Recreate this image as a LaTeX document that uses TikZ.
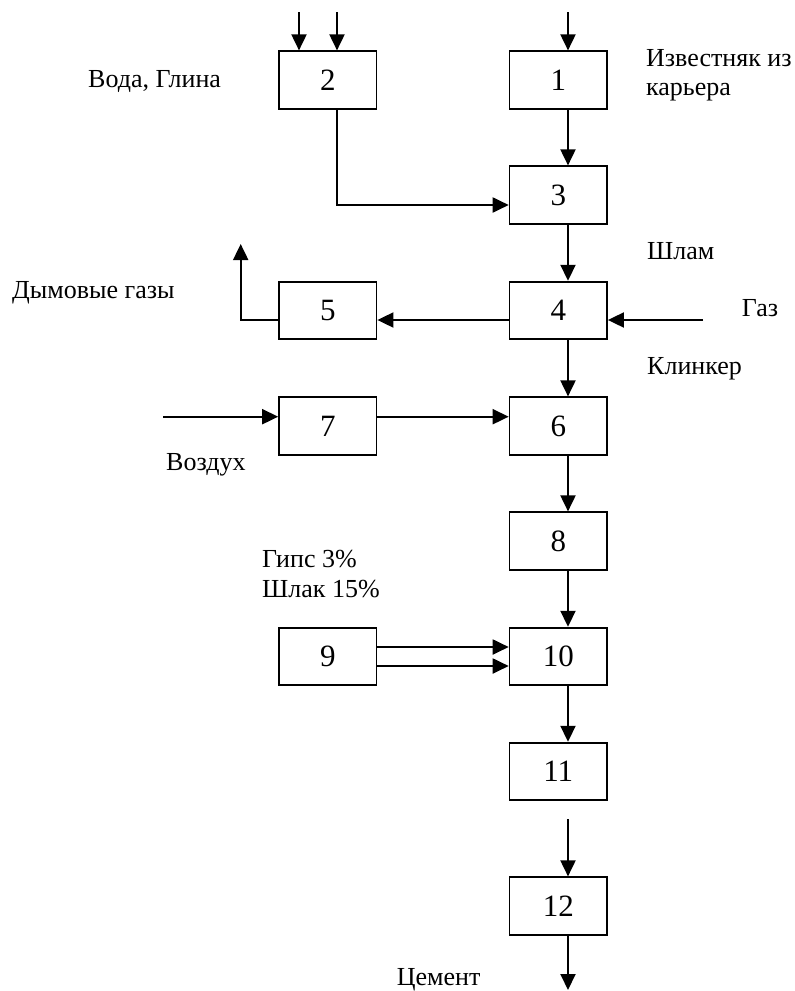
\documentclass[tikz,border=0pt]{standalone}
\usepackage{fontspec}
\setmainfont{Liberation Serif}
\usetikzlibrary{arrows.meta,calc}
\begin{document}
\begin{tikzpicture}[x=1pt,y=-1pt,
  box/.style={draw,line width=1.7pt,minimum width=97.5pt,minimum height=57.5pt,inner sep=0pt,font=\fontsize{31}{36}\selectfont},
  arr/.style={line width=1.9pt,-{Triangle[length=16pt,width=15pt]}},
  lbl/.style={anchor=base west,inner sep=0pt,font=\fontsize{26}{30}\selectfont}]
\useasboundingbox (0,0) rectangle (795,991);
% boxes
\node[box] (b2) at (327.8,80) {2};
\node[box] (b1) at (558.3,80) {1};
\node[box] (b3) at (558.3,195) {3};
\node[box] (b4) at (558.3,310.4) {4};
\node[box] (b5) at (327.8,310.4) {5};
\node[box] (b6) at (558.3,426) {6};
\node[box] (b7) at (327.8,426) {7};
\node[box] (b8) at (558.3,541) {8};
\node[box] (b9) at (327.8,656.4) {9};
\node[box] (b10) at (558.3,656.4) {10};
\node[box] (b11) at (558.3,771.4) {11};
\node[box] (b12) at (558.3,906) {12};
% helper coordinates
\coordinate (cx) at (568,0);
\coordinate (t1) at (568,12);
\coordinate (t2a) at (299,12);
\coordinate (t2b) at (337,12);
\coordinate (j23) at (337,205);
\coordinate (gas) at (703,320);
\coordinate (sm) at (240.7,244);
\coordinate (air) at (163,416.7);
\coordinate (p9a) at (0,647);
\coordinate (p9b) at (0,666);
\coordinate (s12) at (568,819);
\coordinate (end) at (568,990);
% connectors
\draw[arr] (t1) -- (t1 |- b1.north);
\draw[arr] (t2a) -- (t2a |- b2.north);
\draw[arr] (t2b) -- (t2b |- b2.north);
\draw[arr] (b2.south -| j23) -- (j23) -- (j23 -| b3.west);
\draw[arr] (b1.south -| cx) -- (b3.north -| cx);
\draw[arr] (b3.south -| cx) -- (b4.north -| cx);
\draw[arr] (gas) -- (gas -| b4.east);
\draw[arr] (b4.west |- gas) -- (b5.east |- gas);
\draw[arr] (b5.west |- gas) -| (sm);
\draw[arr] (b4.south -| cx) -- (b6.north -| cx);
\draw[arr] (air) -- (air -| b7.west);
\draw[arr] (b7.east |- air) -- (b6.west |- air);
\draw[arr] (b6.south -| cx) -- (b8.north -| cx);
\draw[arr] (b8.south -| cx) -- (b10.north -| cx);
\draw[arr] (b9.east |- p9a) -- (b10.west |- p9a);
\draw[arr] (b9.east |- p9b) -- (b10.west |- p9b);
\draw[arr] (b10.south -| cx) -- (b11.north -| cx);
\draw[arr] (s12) -- (s12 |- b12.north);
\draw[arr] (b12.south -| cx) -- (end);
% labels
\node[lbl] (l2) at (88,87) {Вода, Глина};
\node[lbl] (l1a) at (646,66.7) {Известняк из};
\node[lbl] (l1b) at (646,95) {карьера};
\node[lbl] (l3) at (647,259) {Шлам};
\node[lbl] (l4) at (741.7,316.7) {Газ};
\node[lbl] (l5) at (647,374) {Клинкер};
\node[lbl] (l6) at (12,298) {Дымовые газы};
\node[lbl] (l7) at (166,470) {Воздух};
\node[lbl] (l8a) at (262,567) {Гипс 3\%};
\node[lbl] (l8b) at (262,597) {Шлак 15\%};
\node[lbl] (l9) at (396.7,985) {Цемент};
\end{tikzpicture}
\end{document}
